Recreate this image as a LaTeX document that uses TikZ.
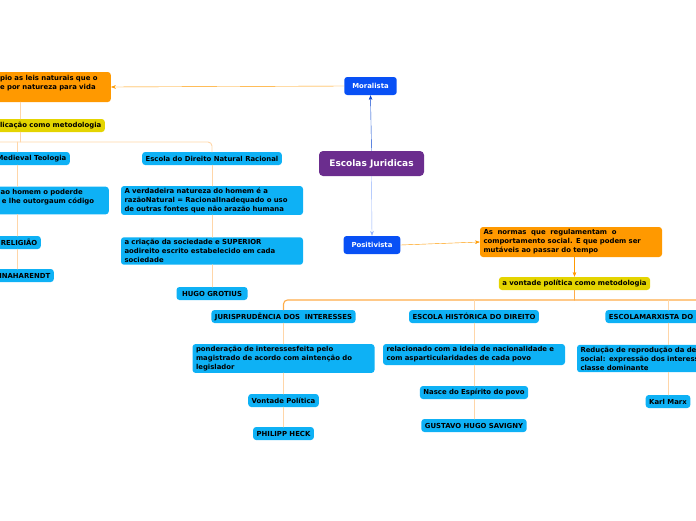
\documentclass[tikz,border=0pt]{standalone}
\usepackage{fontspec}
\setmainfont{DejaVu Sans}
\usetikzlibrary{arrows.meta, positioning, calc}

\definecolor{rootPurple}{RGB}{107,45,142}
\definecolor{schoolBlue}{RGB}{8,80,245}
\definecolor{ideaOrange}{RGB}{255,153,0}
\definecolor{methodYellow}{RGB}{228,212,0}
\definecolor{topicBlue}{RGB}{14,177,245}
\definecolor{stemPeach}{RGB}{255,214,168}
\definecolor{hubOrange}{RGB}{255,172,72}

\begin{document}
\begin{tikzpicture}[x=1pt, y=-1pt, >=Stealth, line cap=round, line join=round]
	\tikzset{
		every node/.style={font=\bfseries\fontsize{6.9}{9}\selectfont, inner xsep=3.5pt, inner ysep=2pt},
		root/.style={fill=rootPurple, text=white, rounded corners=4pt, minimum width=105pt, minimum height=25pt, font=\bfseries\fontsize{9}{11}\selectfont},
		school/.style={fill=schoolBlue, text=white, rounded corners=3pt, minimum height=18pt, inner xsep=8pt},
		idea/.style={fill=ideaOrange, rounded corners=3pt, text width=175pt, align=left, minimum height=30pt},
		method/.style={fill=methodYellow, rounded corners=3pt, minimum height=13pt},
		topic/.style={fill=topicBlue, rounded corners=3pt, minimum height=13pt},
		wide/.style={topic, text width=175pt, align=left},
		uplink/.style={->, thin, draw=schoolBlue!85!black},
		downlink/.style={->, thin, draw=schoolBlue!45},
		idealink/.style={->, thin, draw=ideaOrange},
		hub/.style={line width=1.1pt, draw=hubOrange},
		stem/.style={line width=0.9pt, draw=stemPeach}
	}
	\useasboundingbox (0,0) rectangle (696,520);
	
	\node[root] (root) at (371.5,163.5) {Escolas Juridicas};
	\node[school] (moral) at (370.5,86) {Moralista};
	\node[school] (posit) at (372,245) {Positivista};
	
	% lado moralista
	\node[idea, anchor=east] (ideaL) at (111,87)
	{Toma como princípio as leis naturais que o\\homem já concebe por natureza para vida\\em sociedade};
	\node[method, anchor=east] (methL) at (105,125.5) {a explicação como metodologia};
	\coordinate (trunkL) at (20,142);
	\coordinate (spineL) at (17,142);
	\coordinate (branchL) at (-30,142);
	
	\node[topic, anchor=east] (medL) at (70,158.5) {Escola Medieval Teologia};
	\node[wide, anchor=east] (deusL) at (109,200.5)
	{Deus já concedeu ao homem o poderde\\criar suas normas e lhe outorgaum código\\moral};
	\node[topic, anchor=east] (relL) at (41,242.5) {RELIGIÃO};
	\node[topic, anchor=east] (arendtL) at (54,275.5) {HANNAHARENDT};
	
	\node[topic] (natR) at (212,158.5) {Escola do Direito Natural Racional};
	\node[wide] (verdR) at (212,200.5)
	{A verdadeira natureza do homem é a\\razãoNatural = RacionalInadequado o uso\\de outras fontes que não arazão humana};
	\node[wide] (socR) at (212,251)
	{a criação da sociedade e SUPERIOR\\aodireito escrito estabelecido em cada\\sociedade};
	\node[topic, inner xsep=5.5pt] (hugoR) at (212,293.5) {HUGO GROTIUS};
	
	% lado positivista
	\node[idea] (ideaR) at (571,242)
	{As\ \ normas\ \ que\ \ regulamentam\ \ o\\comportamento social. E que podem ser\\mutáveis ao passar do tempo};
	\node[method] (methR) at (574.5,283.5) {a vontade política como metodologia};
	\coordinate (hubREnd) at (720,300);
	
	\node[topic] (jurR) at (283.5,316.5) {JURISPRUDÊNCIA DOS\ \ INTERESSES};
	\node[wide] (pondR) at (283.5,358.5)
	{ponderação de interessesfeita pelo\\magistrado de acordo com aintenção do\\legislador};
	\node[topic] (vontR) at (283.5,400.5) {Vontade Política};
	\node[topic] (heckR) at (283.5,433.5) {PHILIPP HECK};
	
	\node[topic] (histR) at (474,316.5) {ESCOLA HISTÓRICA DO DIREITO};
	\node[wide, minimum height=21pt] (relacR) at (474,354.5)
	{relacionado com a ideia de nacionalidade e\\com asparticularidades de cada povo};
	\node[topic] (nasceR) at (474,392.5) {Nasce do Espírito do povo};
	\node[topic] (savR) at (474,425.5) {GUSTAVO HUGO SAVIGNY};
	
	\node[topic] (marxR) at (668,316.5) {ESCOLAMARXISTA DO DIREITO};
	\node[wide] (redR) at (668,358.5)
	{Redução de reprodução da desigualdade\\social: expressão dos interesses da\\classe dominante};
	\node[topic] (karlR) at (668,401.5) {Karl Marx};
	
	% ligações
	\draw[uplink] (root.north) -- (moral.south);
	\draw[downlink] (root.south) -- (posit.north);
	\draw[idealink] (moral.west) -- (ideaL.east);
	\draw[idealink] (posit.east) -- (ideaR.west);
	\draw[idealink] (methR.north |- ideaR.south) -- (methR.north);
	
	\draw[stem] (ideaL.south -| trunkL) -- (methL.north -| trunkL);
	\draw[stem] (methL.south -| trunkL) -- (trunkL);
	\draw[stem, rounded corners=4pt] (branchL) -| (natR.north);
	\draw[stem] (spineL) -- (spineL |- medL.north);
	\draw[stem] (spineL |- medL.south) -- (spineL |- deusL.north);
	\draw[stem] (spineL |- deusL.south) -- (spineL |- relL.north);
	\draw[stem] (spineL |- relL.south) -- (spineL |- arendtL.north);
	\draw[stem] (natR.south) -- (verdR.north);
	\draw[stem] (verdR.south) -- (socR.north);
	\draw[stem] (socR.south) -- (hugoR.north);
	
	\draw[hub] (methR.south) -- (methR.south |- hubREnd);
	\draw[hub, rounded corners=4pt] (jurR.north) |- (hubREnd);
	\draw[stem] (histR.north |- hubREnd) -- (histR.north);
	\draw[stem] (marxR.north |- hubREnd) -- (marxR.north);
	\draw[stem] (jurR.south) -- (pondR.north);
	\draw[stem] (pondR.south) -- (vontR.north);
	\draw[stem] (vontR.south) -- (heckR.north);
	\draw[stem] (histR.south) -- (relacR.north);
	\draw[stem] (relacR.south) -- (nasceR.north);
	\draw[stem] (nasceR.south) -- (savR.north);
	\draw[stem] (marxR.south) -- (redR.north);
	\draw[stem] (redR.south) -- (karlR.north);
	
\end{tikzpicture}
\end{document}
